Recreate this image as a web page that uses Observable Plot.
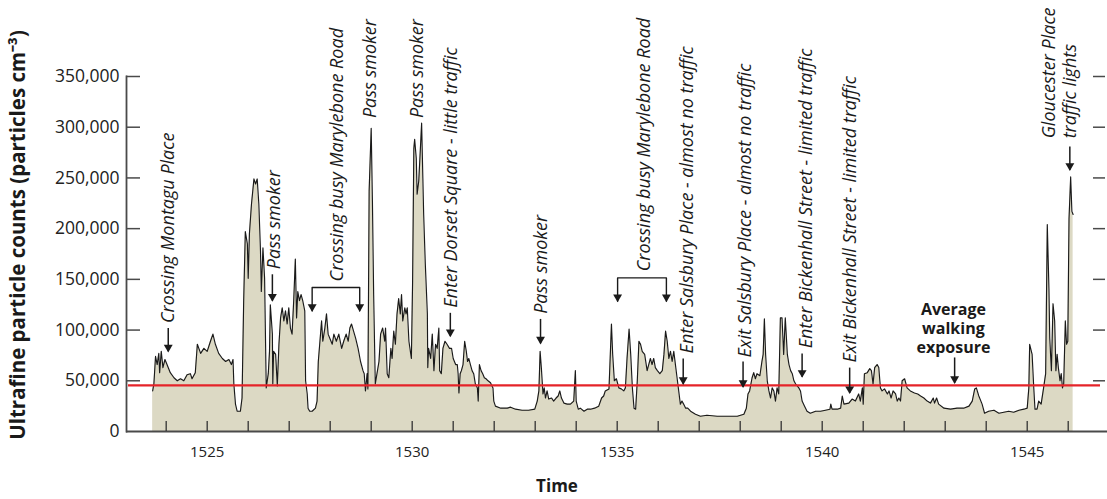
<!DOCTYPE html>
<html><head><meta charset="utf-8">
<script src="https://cdn.jsdelivr.net/npm/d3@7"></script>
<script src="https://cdn.jsdelivr.net/npm/@observablehq/plot@0.6"></script>
<style>
body{margin:0;background:#fff}
#chart svg{font-family:"Open Sans",sans-serif;overflow:visible}
</style>
</head><body><div id="chart"></div>
<script>
// ---- data ----
const times = [
1523.67,1523.70,1523.74,1523.78,1523.82,1523.84,1523.88,1523.92,1523.97,1524.02,1524.10,1524.19,1524.27,1524.35,1524.43,1524.51,1524.59,1524.63,1524.71,1524.76,1524.84,1524.92,
1525.00,1525.08,1525.14,1525.20,1525.28,1525.37,1525.45,1525.53,1525.59,1525.63,1525.65,1525.69,1525.73,1525.81,1525.85,1525.89,1525.93,1525.98,
1526.00,1526.03,1526.08,1526.14,1526.18,1526.22,1526.26,1526.30,1526.32,1526.36,1526.40,1526.44,1526.49,1526.52,1526.54,1526.59,1526.60,1526.62,1526.67,1526.71,1526.75,1526.79,1526.83,1526.87,1526.91,1526.95,1526.99,
1527.03,1527.07,1527.11,1527.15,1527.18,1527.21,1527.25,1527.29,1527.33,1527.38,1527.40,1527.44,1527.46,1527.50,1527.56,1527.64,1527.68,1527.71,1527.75,1527.79,1527.82,1527.87,1527.91,1527.95,1527.99,
1528.05,1528.09,1528.15,1528.21,1528.28,1528.33,1528.39,1528.44,1528.48,1528.52,1528.57,1528.62,1528.68,1528.74,1528.80,1528.83,1528.86,1528.90,1528.92,1528.95,
1529.00,1529.03,1529.06,1529.10,1529.19,1529.23,1529.28,1529.33,1529.35,1529.39,1529.43,1529.48,1529.51,1529.55,1529.59,1529.63,1529.67,1529.71,1529.74,1529.77,1529.82,1529.85,1529.88,1529.92,1529.98,
1530.01,1530.04,1530.06,1530.10,1530.12,1530.16,1530.20,1530.23,1530.26,1530.28,1530.32,1530.37,1530.38,1530.40,1530.45,1530.49,1530.53,1530.57,1530.61,1530.65,1530.67,1530.71,1530.75,1530.80,1530.85,1530.91,1530.96,
1531.00,1531.06,1531.10,1531.12,1531.14,1531.17,1531.20,1531.24,1531.28,1531.32,1531.35,1531.38,1531.42,1531.46,1531.50,1531.54,1531.59,1531.61,1531.64,1531.68,1531.72,1531.76,1531.80,1531.85,1531.91,1531.97,1531.99,
1532.03,1532.16,1532.32,1532.40,1532.52,1532.68,1532.84,1532.99,
1533.05,1533.09,1533.12,1533.15,1533.19,1533.22,1533.25,1533.29,1533.33,1533.40,1533.45,1533.51,1533.56,1533.60,1533.64,1533.70,1533.78,1533.86,1533.94,1533.98,
1534.00,1534.05,1534.10,1534.19,1534.27,1534.35,1534.45,1534.55,1534.62,1534.67,1534.71,1534.80,1534.86,1534.89,1534.93,1534.98,
1535.04,1535.10,1535.16,1535.20,1535.24,1535.29,1535.33,1535.37,1535.41,1535.45,1535.49,1535.53,1535.57,1535.61,1535.67,1535.73,1535.81,1535.85,1535.89,1535.93,1535.98,
1536.04,1536.10,1536.14,1536.18,1536.22,1536.26,1536.30,1536.34,1536.38,1536.42,1536.46,1536.50,1536.54,1536.58,1536.62,1536.67,1536.72,1536.79,1536.91,
1537.03,1537.19,1537.44,1537.68,1537.93,
1538.09,1538.15,1538.19,1538.23,1538.29,1538.33,1538.37,1538.41,1538.48,1538.53,1538.56,1538.59,1538.62,1538.66,1538.70,1538.74,1538.78,1538.82,1538.86,1538.90,1538.94,1538.98,
1539.02,1539.06,1539.10,1539.15,1539.19,1539.23,1539.27,1539.31,1539.35,1539.43,1539.47,1539.51,1539.57,1539.63,1539.71,1539.84,1539.96,
1540.08,1540.19,1540.21,1540.24,1540.37,1540.45,1540.49,1540.53,1540.65,1540.73,1540.81,1540.89,1540.93,1540.98,
1541.00,1541.03,1541.10,1541.16,1541.20,1541.24,1541.28,1541.34,1541.38,1541.42,1541.46,1541.52,1541.59,1541.63,1541.68,1541.73,1541.79,1541.83,1541.87,1541.91,1541.95,
1542.01,1542.07,1542.15,1542.25,1542.33,1542.40,1542.48,1542.56,1542.64,1542.71,1542.74,1542.79,1542.84,1542.97,
1543.13,1543.29,1543.45,1543.58,1543.66,1543.72,1543.76,1543.82,1543.90,1543.96,
1544.06,1544.19,1544.31,1544.43,1544.55,1544.67,1544.80,1544.92,
1545.00,1545.04,1545.06,1545.12,1545.16,1545.19,1545.24,1545.28,1545.34,1545.40,1545.45,1545.49,1545.53,1545.55,1545.59,1545.63,1545.67,1545.70,1545.73,1545.76,1545.80,1545.83,1545.86,1545.89,1545.93,1545.96,1545.99,
1546.02,1546.06,1546.09,1546.12
];
const counts = [
40000,47000,74000,66000,77000,58000,79000,63000,71000,66000,58000,53000,50000,52000,50000,56000,57000,52000,58000,86000,77000,82000,
79000,89000,96000,86000,77000,72000,69000,71000,66000,71000,47000,27000,20000,20000,33000,129000,197000,185000,
151000,195000,224000,249000,244000,249000,224000,178000,138000,181000,151000,43000,57000,79000,125000,96000,47000,79000,76000,45000,86000,112000,122000,109000,119000,106000,122000,
102000,96000,129000,170000,112000,138000,129000,135000,129000,119000,50000,37000,23000,20000,20000,23000,30000,69000,89000,109000,89000,102000,116000,96000,92000,
86000,96000,89000,96000,82000,89000,96000,89000,102000,106000,99000,92000,82000,69000,60000,57000,40000,57000,42000,237000,
299000,227000,135000,47000,69000,96000,102000,89000,102000,57000,53000,82000,72000,99000,86000,116000,131000,116000,135000,109000,122000,116000,122000,89000,72000,
148000,279000,288000,269000,234000,247000,279000,304000,250000,214000,165000,116000,63000,82000,72000,96000,60000,86000,82000,102000,60000,57000,82000,89000,86000,82000,82000,
72000,66000,66000,57000,38000,57000,60000,66000,89000,79000,69000,72000,66000,60000,57000,47000,43000,30000,66000,60000,57000,53000,52000,50000,48000,43000,30000,
25000,23000,23000,24000,22000,21000,21000,22000,
30000,40000,79000,63000,37000,43000,33000,40000,32000,33000,30000,33000,35000,40000,33000,28000,27000,27000,30000,60000,
30000,22000,23000,20000,22000,22000,23000,25000,33000,35000,40000,42000,106000,76000,50000,52000,
43000,42000,40000,43000,72000,101000,76000,43000,23000,22000,50000,89000,86000,79000,76000,60000,72000,66000,72000,63000,60000,
57000,60000,76000,99000,89000,72000,79000,69000,79000,66000,53000,40000,27000,30000,27000,23000,23000,20000,17000,
15000,16000,15000,15000,15000,
17000,23000,37000,40000,53000,58000,52000,57000,55000,69000,76000,111000,76000,50000,40000,33000,43000,40000,30000,43000,37000,112000,
112000,76000,112000,76000,66000,60000,57000,50000,47000,43000,40000,30000,25000,20000,18000,20000,20000,
21000,22000,27000,22000,22000,23000,35000,27000,28000,32000,30000,37000,30000,43000,
27000,57000,58000,62000,60000,47000,63000,66000,63000,43000,40000,42000,37000,40000,33000,40000,37000,30000,33000,30000,50000,
52000,43000,40000,38000,37000,35000,33000,30000,28000,33000,28000,33000,27000,23000,
22000,23000,23000,25000,30000,42000,43000,35000,27000,18000,
20000,21000,18000,19000,20000,19000,21000,22000,
23000,43000,86000,76000,43000,22000,22000,30000,27000,43000,57000,204000,141000,92000,60000,126000,109000,60000,76000,63000,50000,57000,43000,47000,109000,86000,89000,
210000,251000,217000,214000
];
const averageExposure = 45500;

const yTicks = [0, 50000, 100000, 150000, 200000, 250000, 300000, 350000];
const xTickLabels = [1525, 1530, 1535, 1540, 1545];
const minuteTicks = [1524,1525,1526,1527,1528,1529,1530,1531,1532,1533,1534,1535,1536,1537,1538,1539,1540,1541,1542,1543,1544,1545,1546];

// rotated italic annotations: text, time of the text column, count at the text's lower end
const noteTexts = ["Crossing Montagu Place","Pass smoker","Crossing busy Marylebone Road","Pass smoker","Pass smoker",
  "Enter Dorset Square - little traffic","Pass smoker","Crossing busy Marylebone Road",
  "Enter Salsbury Place - almost no traffic","Exit Salsbury Place - almost no traffic",
  "Enter Bickenhall Street - limited traffic","Exit Bickenhall Street - limited traffic",
  "Gloucester Place","traffic lights"];
const noteTimes = [1524.06,1526.64,1528.17,1528.98,1530.12,1530.95,1533.15,1535.65,1536.72,1538.13,1539.61,1540.69,1545.53,1546.04];
const noteCounts = [107000,160000,148000,309000,309000,122000,116000,158000,77000,73000,82000,68000,289000,289000];

// single arrows: time, start count, tip count
const arrowTimes = [1524.05,1526.59,1530.93,1533.13,1536.61,1538.07,1539.51,1540.67,1543.23,1546.04];
const arrowFrom  = [102000,155000,117000,111000,72000,69000,77000,63000,73000,281000];
const arrowTo    = [79000,129000,94000,87000,47000,44000,54000,38000,48000,258000];

// brackets over the two Marylebone Road crossings
const bracketLeft   = [1527.56, 1535.01];
const bracketRight  = [1528.72, 1536.20];
const bracketTop    = [142000, 151500];
const bracketBottom = [119000, 128500];

const avgLabel = "Average\nwalking\nexposure";
const avgLabelTime = 1543.20;
const avgLabelCount = 102000;

const yTitle = "Ultrafine particle counts (particles cm\u207B\u00B3)";
const xTitle = "Time";

// ---- tables built from the arrays ----
const series = times.map((t, i) => ({t, v: counts[i]}));
const notes = noteTexts.map((text, i) => ({text, t: noteTimes[i], v: noteCounts[i]}));
const arrows = arrowTimes.map((t, i) => ({t, from: arrowFrom[i], to: arrowTo[i]}));
const bracketPaths = [];
const bracketTips = [];
bracketLeft.forEach((l, i) => {
  const r = bracketRight[i];
  [[l, bracketBottom[i]], [l, bracketTop[i]], [r, bracketTop[i]], [r, bracketBottom[i]]]
    .forEach(([t, v]) => bracketPaths.push({g: i, t, v}));
  bracketTips.push({t: l, v: bracketBottom[i]}, {t: r, v: bracketBottom[i]});
});

const ink = "#1a1a1a";
const axisInk = "#4a4a4a";

const chart = Plot.plot({
  width: 1107,
  height: 499,
  marginLeft: 126,
  marginRight: 14,
  marginTop: 76,
  marginBottom: 68,
  style: {fontFamily: "'Open Sans', sans-serif", color: "#222", background: "#fff"},
  x: {domain: [1523.032, 1546.617], axis: null},
  y: {domain: [0, 350000], axis: null},
  marks: [
    Plot.areaY(series, {x: "t", y: "v", fill: "#dcd9c4"}),
    Plot.lineY(series, {x: "t", y: "v", stroke: ink, strokeWidth: 1.15}),
    Plot.ruleY([averageExposure], {stroke: "#e52329", strokeWidth: 2.3, insetLeft: 2, insetRight: -7}),
    // axis lines
    Plot.frame({anchor: "left", stroke: axisInk, strokeWidth: 1.8}),
    Plot.ruleY([0], {stroke: axisInk, strokeWidth: 2, insetRight: -14}),
    // inward minute ticks on the time axis
    Plot.ruleX(minuteTicks, {x: d => d, stroke: "#333", strokeWidth: 1.3, insetTop: 345}),
    // inward ticks on the left, outer ticks on the right
    Plot.ruleY(yTicks.slice(1), {y: d => d, stroke: axisInk, strokeWidth: 1.5, insetRight: 953}),
    Plot.ruleY(yTicks.slice(1), {y: d => d, stroke: axisInk, strokeWidth: 1.5, insetLeft: 967, insetRight: -12}),
    Plot.axisY({ticks: yTicks, tickSize: 0, tickPadding: 7, tickFormat: d3.format(","), fontSize: 17.5, label: null}),
    Plot.axisX({ticks: xTickLabels, tickSize: 0, tickPadding: 15, tickFormat: d => String(d), fontSize: 15, label: null}),
    // annotations
    Plot.text(notes, {x: "t", y: "v", text: "text", rotate: -90, textAnchor: "start", lineAnchor: "middle",
      fontStyle: "italic", fontSize: 18, fill: ink}),
    Plot.link(arrows, {x1: "t", x2: "t", y1: "from", y2: "to", stroke: ink, strokeWidth: 1.5}),
    Plot.dot(arrows, {x: "t", y: "to", symbol: "triangle", rotate: 180, r: 3.3, fill: ink, stroke: null, dy: -4}),
    Plot.line(bracketPaths, {x: "t", y: "v", z: "g", stroke: ink, strokeWidth: 1.4}),
    Plot.dot(bracketTips, {x: "t", y: "v", symbol: "triangle", rotate: 180, r: 3.3, fill: ink, stroke: null, dy: -4}),
    Plot.text([avgLabel], {x: [avgLabelTime], y: [avgLabelCount], text: d => d, fontWeight: "bold", fontSize: 16,
      lineHeight: 1.17, fill: ink}),
    // axis titles
    Plot.text([yTitle], {frameAnchor: "left", text: d => d, rotate: -90, textAnchor: "middle", lineAnchor: "middle",
      dx: -108, dy: -19, fontWeight: "bold", fontSize: 20.5, fill: ink}),
    Plot.text([xTitle], {frameAnchor: "bottom", text: d => d, textAnchor: "middle", dx: -53, dy: 60, fontWeight: "bold", fontSize: 17, fill: ink})
  ]
});
document.getElementById("chart").appendChild(chart);
</script>
</body></html>
